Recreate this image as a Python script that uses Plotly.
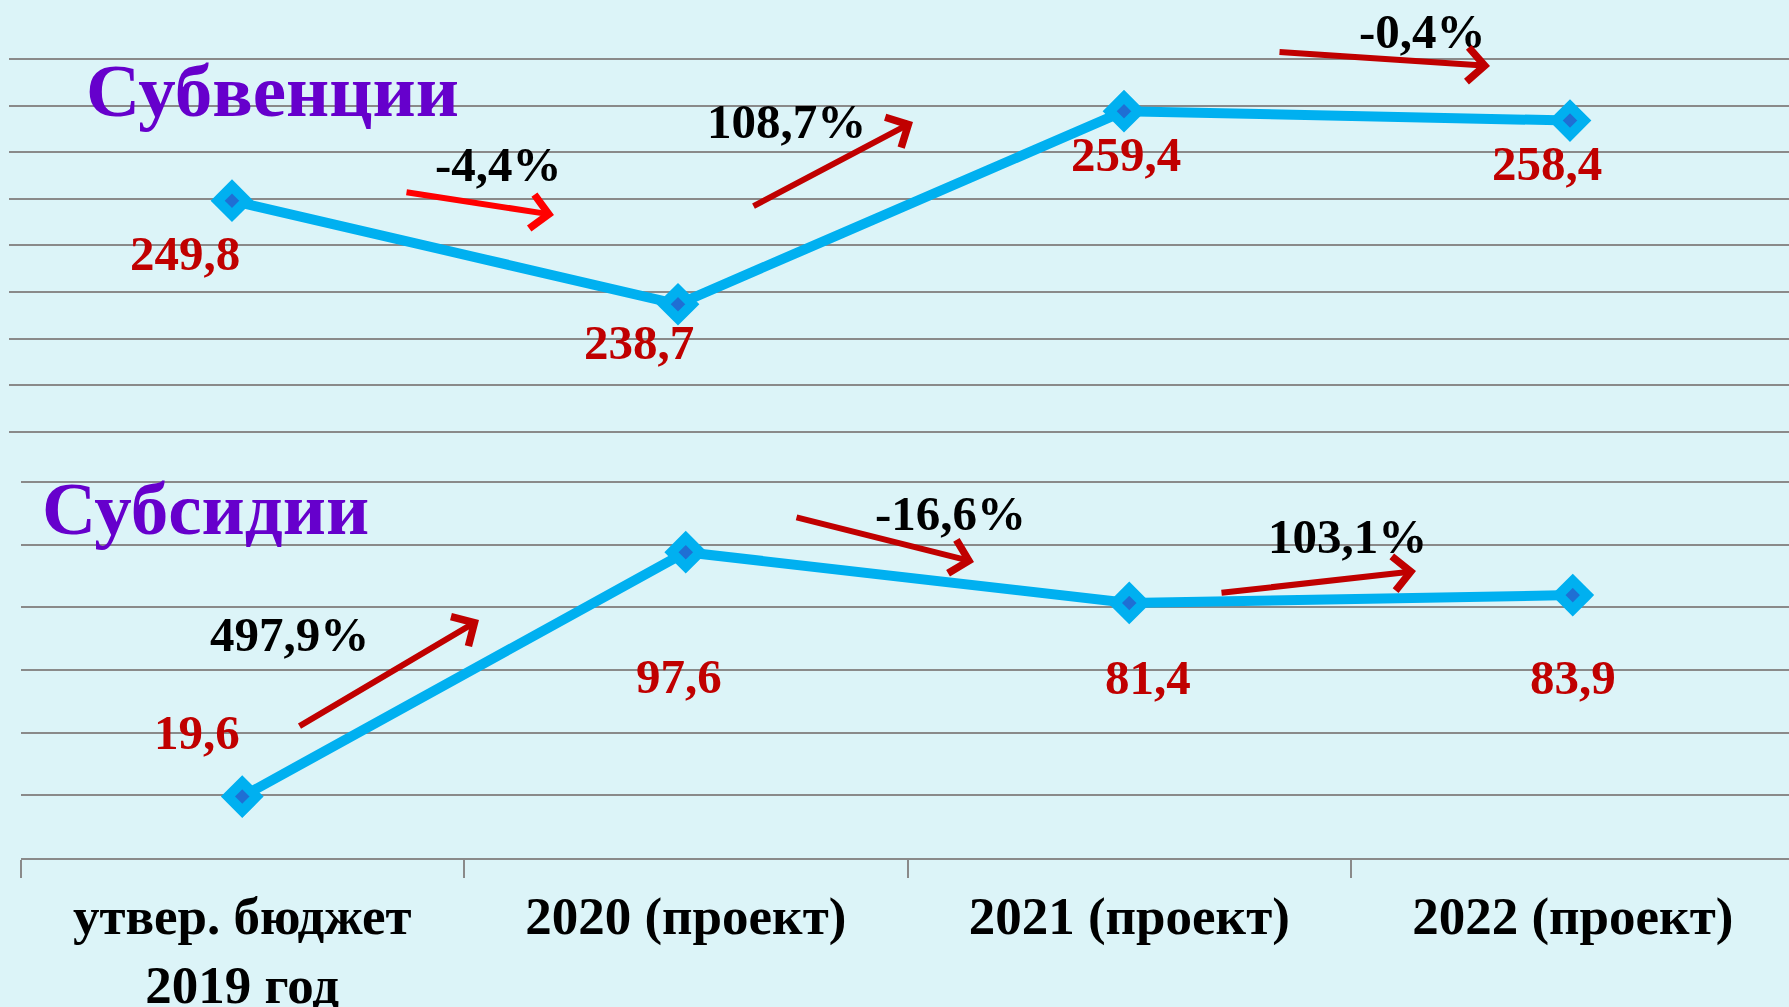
import plotly.graph_objects as go

# ---------------- data ----------------
categories = ["утвер. бюджет<br>2019 год", "2020 (проект)", "2021 (проект)", "2022 (проект)"]
subventions = [249.8, 238.7, 259.4, 258.4]
subsidies = [19.6, 97.6, 81.4, 83.9]
subv_changes = ["-4,4%", "108,7%", "-0,4%"]
subs_changes = ["497,9%", "-16,6%", "103,1%"]
series_titles = ["Субвенции", "Субсидии"]

# ---------------- styling / layout constants ----------------
W, H = 1789, 1007
BG = "#dcf4f8"
LINE = "#00b0f0"
INNER = "#1f6fd4"
GRID = "#8a8a8a"
RED = "#c00000"
PURPLE = "#6600cc"
FONT = "Liberation Serif, Times New Roman, serif"


def px(x, y):
    """pixel -> paper coordinates"""
    return x / W, 1 - y / H


fig = go.Figure()

marker = dict(symbol="diamond", size=22, color=INNER, line=dict(color=LINE, width=10))

fig.add_trace(go.Scatter(x=categories, y=subsidies, mode="lines+markers",
                         line=dict(color=LINE, width=10), marker=marker,
                         xaxis="x", yaxis="y", hoverinfo="skip", showlegend=False))
fig.add_trace(go.Scatter(x=categories, y=subventions, mode="lines+markers",
                         line=dict(color=LINE, width=10), marker=marker,
                         xaxis="x2", yaxis="y2", hoverinfo="skip", showlegend=False))

annotations = []


def fmt(v):
    return f"{v:.1f}".replace(".", ",")


# value labels (offsets in pixels)
top_off = [(-47, 53), (-39, 38), (2, 43), (-23, 43)]
bot_off = [(-45, -64), (-7, 124), (19, 75), (0, 82)]
for c, v, (dx, dy) in zip(categories, subventions, top_off):
    annotations.append(dict(x=c, y=v, xref="x2", yref="y2", text=f"<b>{fmt(v)}</b>",
                            showarrow=False, xshift=dx, yshift=-dy,
                            font=dict(family=FONT, size=49, color=RED)))
for c, v, (dx, dy) in zip(categories, subsidies, bot_off):
    annotations.append(dict(x=c, y=v, xref="x", yref="y", text=f"<b>{fmt(v)}</b>",
                            showarrow=False, xshift=dx, yshift=-dy,
                            font=dict(family=FONT, size=49, color=RED)))

# percent-change labels (pixel centres)
top_pct_pos = [(499, 164), (786, 121), (1422, 31)]
bot_pct_pos = [(289, 634), (950, 513), (1347, 536)]
for t, (x, y) in zip(subv_changes + subs_changes, top_pct_pos + bot_pct_pos):
    xp, yp = px(x, y)
    annotations.append(dict(x=xp, y=yp, xref="paper", yref="paper", text=f"<b>{t}</b>",
                            showarrow=False, xanchor="center", yanchor="middle",
                            font=dict(family=FONT, size=49, color="#000000")))

# arrows: (tail, head, colour)
arrows = [((405, 192), (554, 215), "#ff0000"),
          ((752, 207), (913, 122), RED),
          ((1278, 52), (1490, 66), RED),
          ((298, 727), (479, 620), RED),
          ((795, 517), (974, 562), RED),
          ((1220, 593), (1416, 571), RED)]
for (tx, ty), (hx, hy), col in arrows:
    xp, yp = px(hx, hy)
    annotations.append(dict(x=xp, y=yp, xref="paper", yref="paper", text="",
                            showarrow=True, ax=tx - hx, ay=ty - hy, axref="pixel", ayref="pixel",
                            arrowhead=4, arrowsize=1.1, arrowwidth=6, arrowcolor=col, standoff=0))

# series titles
for t, (x, y) in zip(series_titles, [(272, 90), (205, 508)]):
    xp, yp = px(x, y)
    annotations.append(dict(x=xp, y=yp, xref="paper", yref="paper", text=f"<b>{t}</b>",
                            showarrow=False, xanchor="center", yanchor="middle",
                            font=dict(family=FONT, size=75, color=PURPLE)))

# axes geometry
bot_x0 = 20.5 / W
top_x0 = 9 / W
bot_range = [-0.5, -0.5 + (W - 20.5) / 443.5]
top_range = [-0.5, -0.5 + (W - 9) / 446]
# bottom y: 0 at 858 px, 120 at 482 px (slightly extended so the 120 grid line shows)
bppu = (858 - 482) / 120
bot_y = [1 - 858 / H, 1 - (482 - 2 * bppu) / H]
# top y: 224.5 .. 265.5  (225 at 432 px, 265 at 59 px)
ppu = (432 - 59) / 40
top_y = [1 - (432 + 0.5 * ppu) / H, 1 - (59 - 0.5 * ppu) / H]

fig.update_layout(
    width=W, height=H,
    margin=dict(l=0, r=0, t=0, b=0, autoexpand=False),
    paper_bgcolor=BG, plot_bgcolor=BG,
    showlegend=False,
    font=dict(family=FONT),
    xaxis=dict(domain=[bot_x0, 1], type="category", range=bot_range, anchor="y",
               automargin=False,
               showgrid=False, zeroline=False, showline=True, linecolor=GRID, linewidth=2,
               ticks="outside", tickson="boundaries", ticklen=18, tickwidth=2, tickcolor=GRID,
               ticklabelstandoff=10,
               tickfont=dict(family=FONT, size=53, color="#000000", weight="bold"),
               fixedrange=True),
    yaxis=dict(domain=bot_y, range=[0, 122], tickvals=[20, 40, 60, 80, 100, 120],
               automargin=False,
               showticklabels=False, showgrid=True, gridcolor=GRID, gridwidth=2,
               zeroline=False, showline=False, anchor="x", fixedrange=True),
    xaxis2=dict(domain=[top_x0, 1], type="category", range=top_range, anchor="y2",
                visible=False, automargin=False, fixedrange=True),
    yaxis2=dict(domain=top_y, range=[224.5, 265.5], tickvals=list(range(225, 266, 5)),
                automargin=False,
                showticklabels=False, showgrid=True, gridcolor=GRID, gridwidth=2,
                zeroline=False, showline=False, anchor="x2", fixedrange=True),
    annotations=annotations,
)

fig.write_html("out.html", config={"displayModeBar": False},
               post_script="document.body.style.margin='0';document.body.style.padding='0';"
                           "document.body.style.overflow='hidden';")
